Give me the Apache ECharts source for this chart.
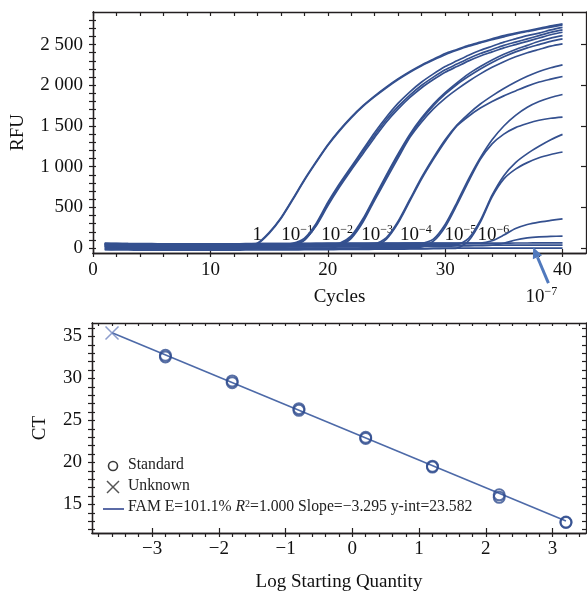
<!DOCTYPE html>
<html><head><meta charset="utf-8">
<script src="https://cdn.jsdelivr.net/npm/echarts@6.0.0/dist/echarts.min.js"></script>
<style>html,body{margin:0;padding:0;background:#fff}#c{width:587px;height:594px}</style>
</head><body><div id="c"></div>
<script>
// ---------- Top panel: amplification curves (RFU vs cycle) ----------
const cycles = [1,2,3,4,5,6,7,8,9,10,11,12,13,14,15,16,17,18,19,20,21,22,23,24,25,26,27,28,29,30,31,32,33,34,35,36,37,38,39,40];

const g1a = [42,40,38,37,36,36,35,35,36,36,37,38,40,60,190,370,600,840,1060,1270,1450,1610,1750,1870,1980,2080,2170,2250,2320,2390,2440,2490,2530,2570,2610,2640,2670,2700,2730,2754];
const g1b = [28,27,26,25,25,24,24,25,25,26,27,28,30,52,180,360,590,830,1050,1260,1440,1600,1740,1860,1970,2070,2160,2240,2310,2375,2430,2480,2520,2560,2595,2630,2660,2690,2715,2740];
const g2a = [55,52,50,48,47,46,46,45,45,45,46,46,47,47,48,48,60,120,300,560,790,1000,1210,1420,1610,1780,1920,2040,2140,2230,2300,2370,2430,2480,2530,2570,2610,2640,2680,2712];
const g2b = [10,8,6,5,4,4,3,3,4,4,5,5,6,7,8,9,30,95,280,540,770,980,1190,1390,1580,1740,1880,2000,2100,2190,2260,2330,2390,2440,2490,2530,2570,2610,2650,2680];
const g2c = [38,36,35,34,33,33,32,32,33,33,34,34,35,35,36,37,50,100,270,520,750,960,1160,1360,1550,1710,1850,1970,2070,2160,2230,2300,2360,2410,2460,2500,2540,2580,2620,2651];
const g3a = [48,46,45,44,43,43,42,42,42,43,43,44,44,45,45,46,46,47,47,48,60,150,360,630,900,1160,1400,1600,1770,1910,2030,2140,2230,2310,2380,2440,2490,2540,2580,2610];
const g3b = [20,18,16,15,14,14,13,13,14,14,15,15,16,16,17,17,18,18,19,20,45,135,340,610,880,1140,1380,1580,1750,1890,2010,2110,2200,2280,2350,2410,2460,2500,2540,2570];
const g3c = [-10,-12,-13,-14,-14,-15,-15,-14,-14,-13,-13,-12,-12,-11,-10,-10,-9,-8,-7,-6,30,120,320,590,850,1110,1360,1550,1710,1840,1950,2050,2140,2220,2290,2350,2400,2440,2480,2508];
const g4a = [52,50,49,48,47,47,46,46,46,47,47,48,48,49,49,50,50,51,51,52,52,53,53,54,130,330,600,870,1110,1330,1510,1650,1770,1870,1960,2040,2110,2170,2215,2251];
const g4b = [25,23,22,21,20,20,19,19,20,20,21,21,22,22,23,23,24,24,25,25,26,27,28,30,110,310,580,850,1090,1310,1500,1620,1720,1800,1870,1930,1990,2040,2075,2108];
const g5a = [60,58,56,55,54,53,53,52,52,52,53,53,54,54,55,55,56,56,57,57,58,58,59,59,60,60,61,62,110,290,560,850,1110,1330,1500,1630,1730,1800,1850,1887];
const g5b = [0,-2,-3,-4,-5,-5,-6,-6,-5,-5,-4,-4,-3,-3,-2,-2,-1,-1,0,0,1,1,2,3,4,5,8,15,85,260,530,820,1090,1280,1400,1480,1530,1570,1595,1609];
const g6a = [40,38,37,36,35,35,34,34,34,35,35,36,36,37,37,38,38,39,39,40,40,41,41,42,42,43,43,44,44,45,46,120,340,650,890,1050,1160,1250,1330,1397];
const g6b = [-20,-22,-23,-24,-25,-25,-26,-26,-25,-25,-24,-24,-23,-23,-22,-22,-21,-20,-19,-18,-17,-16,-15,-14,-13,-12,-11,-10,-8,-5,0,90,320,630,850,970,1050,1110,1150,1180];
const g7a = [58,56,54,53,52,52,51,51,51,52,52,53,53,54,54,55,55,56,56,57,57,58,58,59,59,60,60,61,61,62,62,63,63,90,160,240,290,320,340,359];
const g7b = [15,14,13,12,12,11,11,11,12,12,13,13,14,14,15,15,16,16,17,17,18,18,19,19,20,21,22,23,24,25,26,28,30,35,60,100,125,138,144,147];
const n1 = [45,46,46,47,47,48,48,49,49,50,50,51,51,52,52,53,53,54,54,55,55,56,56,57,57,58,58,59,59,60,60,61,61,62,62,63,63,64,64,65];
const n2 = [30,30,31,31,31,32,32,32,32,33,33,33,33,33,34,34,34,34,34,35,35,35,35,35,35,36,36,36,36,36,36,36,37,37,37,37,37,37,37,37];
const n3 = [-15,-14,-13,-12,-11,-10,-10,-9,-9,-8,-8,-7,-7,-6,-6,-5,-5,-5,-4,-4,-4,-3,-3,-3,-2,-2,-2,-2,-1,-1,-1,-1,0,0,0,0,0,0,0,0];

const rfuTickLabels = [0,500,1000,1500,2000,2500];
const rfuMinorTicks = [0,100,200,300,400,500,600,700,800,900,1000,1100,1200,1300,1400,1500,1600,1700,1800,1900,2000,2100,2200,2300,2400,2500,2600,2700,2800];
const cycleTickLabels = [0,10,20,30,40];
const cycleMinorTicks = [0,2,4,6,8,10,12,14,16,18,20,22,24,26,28,30,32,34,36,38,40];

// dilution annotations (cycle, RFU) and their exponents
const dilutionX = [14.0,17.4,20.8,24.2,27.5,31.3,34.1];
const dilutionY = [165,165,165,165,165,165,165];
const dilutionExp = ['', '−1', '−2', '−3', '−4', '−5', '−6'];
const negLabelPos = [38.2, -600];
const negArrow = [38.8, -430, 37.5, 12]; // from (cycle, RFU) to (cycle, RFU)

// ---------- Bottom panel: standard curve ----------
const stdLogQ = [-2.8,-2.8,-1.8,-1.8,-0.8,-0.8,0.2,0.2,1.2,1.2,2.2,2.2,3.2,3.2];
const stdCT   = [32.55,32.75,29.5,29.7,26.2,26.4,22.85,23.0,19.45,19.55,15.85,16.15,12.85,12.9];
const unkLogQ = [-3.6];
const unkCT   = [35.4];
const fitLogQ = [-3.6, 3.2];
const fitCT   = [35.44, 13.04];
const ctTickLabels = [15,20,25,30,35];
const ctMinorTicks = [12,13,14,15,16,17,18,19,20,21,22,23,24,25,26,27,28,29,30,31,32,33,34,35,36];
const logTickLabels = [-3,-2,-1,0,1,2,3];
const logMinorTicks = [-3.8,-3.6,-3.4,-3.2,-3,-2.8,-2.6,-2.4,-2.2,-2,-1.8,-1.6,-1.4,-1.2,-1,-0.8,-0.6,-0.4,-0.2,0,0.2,0.4,0.6,0.8,1,1.2,1.4,1.6,1.8,2,2.2,2.4,2.6,2.8,3,3.2,3.4];

const FONT = 'Liberation Serif';
const AX = '#231f20';
const CURVE = '#34508f';

const curves = [g1a,g1b,g2a,g2b,g2c,g3a,g3b,g3c,g4a,g4b,g5a,g5b,g6a,g6b,g7a,g7b,n1,n2,n3];

function thousands(v){ return String(v).replace(/\B(?=(\d{3})+(?!\d))/g,' '); }
function minus(v){ return v < 0 ? '−' + Math.abs(v) : String(v); }

const lblStyle = {fontFamily: FONT, fontSize: 19, color: '#111'};
const nameStyle = {fontFamily: FONT, fontSize: 19, color: '#111'};

function tickAxis(extra){ // axis with ticks only
  return Object.assign({
    type:'value', axisLine:{show:true, onZero:false, lineStyle:{color:AX, width:1.3}},
    axisLabel:{show:false}, splitLine:{show:false}
  }, extra);
}

const xAxes = [
  // top panel
  tickAxis({gridIndex:0, position:'bottom', min:0, max:42,
    axisTick:{show:true, customValues:cycleMinorTicks, length:4, lineStyle:{color:AX, width:1.2}},
    axisLabel:Object.assign({show:true, customValues:cycleTickLabels, margin:8}, lblStyle),
    name:'Cycles', nameLocation:'middle', nameGap:35, nameTextStyle:nameStyle}),
  tickAxis({gridIndex:0, position:'bottom', min:0, max:42,
    axisTick:{show:true, inside:true, customValues:cycleTickLabels, length:4, lineStyle:{color:AX, width:1.2}}}),
  tickAxis({gridIndex:0, position:'top', min:0, max:42,
    axisTick:{show:true, inside:true, customValues:cycleMinorTicks, length:4, lineStyle:{color:AX, width:1.2}}}),
  // bottom panel
  tickAxis({gridIndex:1, position:'bottom', min:-3.9, max:3.5,
    axisTick:{show:true, customValues:logMinorTicks, length:4, lineStyle:{color:AX, width:1.2}},
    axisLabel:Object.assign({show:true, customValues:logTickLabels, margin:7, formatter:minus}, lblStyle),
    name:'Log Starting Quantity', nameLocation:'middle', nameGap:40, nameTextStyle:nameStyle}),
  tickAxis({gridIndex:1, position:'bottom', min:-3.9, max:3.5,
    axisTick:{show:true, inside:true, customValues:logTickLabels, length:5, lineStyle:{color:AX, width:1.2}}}),
  tickAxis({gridIndex:1, position:'top', min:-3.9, max:3.5,
    axisTick:{show:true, inside:true, customValues:logMinorTicks, length:3, lineStyle:{color:AX, width:1.2}}})
];

const yAxes = [
  tickAxis({gridIndex:0, position:'left', min:-60, max:2900,
    axisTick:{show:true, customValues:rfuMinorTicks, length:4, lineStyle:{color:AX, width:1.2}},
    axisLabel:Object.assign({show:true, customValues:rfuTickLabels, margin:10, formatter:thousands}, lblStyle),
    name:'RFU', nameLocation:'middle', nameGap:65, nameTextStyle:nameStyle}),
  tickAxis({gridIndex:0, position:'left', min:-60, max:2900,
    axisTick:{show:true, inside:true, customValues:rfuMinorTicks, length:3, lineStyle:{color:AX, width:1.2}}}),
  tickAxis({gridIndex:0, position:'right', min:-60, max:2900,
    axisTick:{show:true, inside:true, customValues:rfuTickLabels, length:5, lineStyle:{color:AX, width:1.2}}}),
  tickAxis({gridIndex:1, position:'left', min:11.6, max:36.6,
    axisTick:{show:true, customValues:ctMinorTicks, length:4, lineStyle:{color:AX, width:1.2}},
    axisLabel:Object.assign({show:true, customValues:ctTickLabels, margin:10}, lblStyle),
    name:'CT', nameLocation:'middle', nameGap:42, nameTextStyle:nameStyle}),
  tickAxis({gridIndex:1, position:'left', min:11.6, max:36.6,
    axisTick:{show:true, inside:true, customValues:ctMinorTicks, length:3, lineStyle:{color:AX, width:1.2}}}),
  tickAxis({gridIndex:1, position:'right', min:11.6, max:36.6,
    axisTick:{show:true, inside:true, customValues:ctMinorTicks, length:4, lineStyle:{color:AX, width:1.2}}})
];

const series = [];
curves.forEach(arr => {
  series.push({type:'line', xAxisIndex:0, yAxisIndex:0, data: arr.map((v,i)=>[cycles[i], v]),
    showSymbol:false, symbol:'none', smooth:0.25, silent:true,
    lineStyle:{color:CURVE, width:1.7}});
});

const supRich = {
  b:{fontFamily:FONT, fontSize:19, color:'#111', lineHeight:22},
  s:{fontFamily:FONT, fontSize:12, color:'#111', verticalAlign:'top', lineHeight:12}
};
const labelItem = {color:'#111', opacity:1};
series.push({type:'scatter', xAxisIndex:0, yAxisIndex:0, symbolSize:0, silent:true,
  itemStyle:labelItem,
  data: dilutionX.map((x,i)=>[x, dilutionY[i]]),
  label:{show:true, position:'inside', color:'#111', rich:supRich,
    formatter: p => dilutionExp[p.dataIndex] ? '{b|10}{s|' + dilutionExp[p.dataIndex] + '}' : '{b|1}'}
});
series.push({type:'scatter', xAxisIndex:0, yAxisIndex:0, symbolSize:0, silent:true, clip:false,
  itemStyle:labelItem,
  data:[negLabelPos],
  label:{show:true, position:'inside', color:'#111', rich:supRich, formatter:'{b|10}{s|−7}'}
});
// arrow pointing at the 10^-7 traces
series.push({type:'custom', xAxisIndex:0, yAxisIndex:0, clip:false, silent:true, z:5,
  data:[negArrow],
  encode:{x:[0,2], y:[1,3]},
  renderItem:(params, api) => {
    const p0 = api.coord([api.value(0), api.value(1)]);
    const p1 = api.coord([api.value(2), api.value(3)]);
    const ang = Math.atan2(p1[1]-p0[1], p1[0]-p0[0]);
    const L = 11, W = 5;
    const bx = p1[0]-L*Math.cos(ang), by = p1[1]-L*Math.sin(ang);
    const a = [bx + W*Math.sin(ang), by - W*Math.cos(ang)];
    const b = [bx - W*Math.sin(ang), by + W*Math.cos(ang)];
    return {type:'group', children:[
      {type:'line', shape:{x1:p0[0], y1:p0[1], x2:bx, y2:by}, style:{stroke:'#5079bd', lineWidth:3}},
      {type:'polygon', shape:{points:[p1, a, b]}, style:{fill:'#5079bd'}}
    ]};
  }
});

// bottom panel series
series.push({type:'line', xAxisIndex:3, yAxisIndex:3, data: fitLogQ.map((x,i)=>[x, fitCT[i]]),
  symbol:'none', silent:true, lineStyle:{color:'#4d6aa8', width:1.6}, z:1});
series.push({type:'scatter', xAxisIndex:3, yAxisIndex:3, data: stdLogQ.map((x,i)=>[x, stdCT[i]]),
  symbol:'circle', symbolSize:11, silent:true,
  itemStyle:{color:'rgba(0,0,0,0)', borderColor:'#2f4c8f', borderWidth:2}, z:3});
series.push({type:'scatter', xAxisIndex:3, yAxisIndex:3, data: unkLogQ.map((x,i)=>[x, unkCT[i]]),
  symbol:'path://M0,0L10,10M10,0L0,10', symbolSize:13, silent:true,
  itemStyle:{color:'none', borderColor:'#7086c0', borderWidth:1.5}, z:3});

const legendFont = {fontFamily:FONT, fontSize:15.7, fill:'#222'};
const graphic = [
  {type:'circle', shape:{cx:113, cy:466, r:4.5}, style:{fill:'none', stroke:'#3a3a3a', lineWidth:1.6}},
  {type:'line', shape:{x1:107, y1:481, x2:119, y2:493}, style:{stroke:'#555', lineWidth:1.5}},
  {type:'line', shape:{x1:119, y1:481, x2:107, y2:493}, style:{stroke:'#555', lineWidth:1.5}},
  {type:'line', shape:{x1:103, y1:509, x2:124, y2:509}, style:{stroke:'#5b6ba6', lineWidth:2}},
  {type:'text', left:128, top:457, style:Object.assign({text:'Standard'}, legendFont)},
  {type:'text', left:128, top:478, style:Object.assign({text:'Unknown'}, legendFont)},
  {type:'text', left:128, top:499, style:Object.assign({
    text:'FAM E=101.1% {i|R}{s|2}=1.000 Slope=−3.295 y-int=23.582',
    rich:{i:{fontFamily:FONT, fontSize:15.7, fontStyle:'italic', fill:'#222'},
          s:{fontFamily:FONT, fontSize:10, verticalAlign:'top', fill:'#222'}}}, legendFont)}
];

const chart = echarts.init(document.getElementById('c'), null, {renderer:'canvas'});
chart.setOption({
  animation:false,
  backgroundColor:'#fff',
  grid:[
    {left:93, top:12, width:493, height:241, containLabel:false},
    {left:92, top:323, width:494, height:210, containLabel:false}
  ],
  xAxis:xAxes,
  yAxis:yAxes,
  series:series,
  graphic:graphic
});
</script>
</body></html>
